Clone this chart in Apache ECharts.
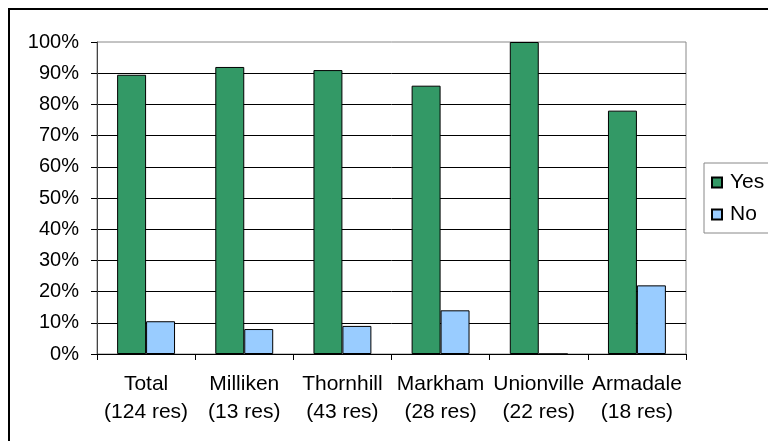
<!DOCTYPE html>
<html>
<head>
<meta charset="utf-8">
<script src="https://cdn.jsdelivr.net/npm/echarts@6/dist/echarts.min.js"></script>
<style>
html, body { margin: 0; padding: 0; background: #fff; }
#chart { width: 768px; height: 441px; }
</style>
</head>
<body>
<div id="chart"></div>
<script>
// 区域 + 样本数
var areas = ['Total', 'Milliken', 'Thornhill', 'Markham', 'Unionville', 'Armadale'];
var resCounts = [124, 13, 43, 28, 22, 18];
var yesPct = [89.5, 92, 91, 86, 100, 78];
var noPct = [10.5, 8, 9, 14, 0, 22];

var labels = [];
for (var i = 0; i < areas.length; i++) {
    labels.push(areas[i] + '\n(' + resCounts[i] + ' res)');
}

var font = 'Liberation Sans, Arial, sans-serif';

var option = {
    animation: false,
    backgroundColor: '#fff',
    textStyle: { fontFamily: font },
    graphic: [
        {
            type: 'rect',
            shape: { x: 9, y: 9, width: 800, height: 500 },
            style: { fill: 'none', stroke: '#000', lineWidth: 2 },
            z: 0
        }
    ],
    grid: {
        left: 97,
        top: 42,
        right: 82,
        bottom: 87,
        show: true,
        borderColor: '#888',
        borderWidth: 1,
        backgroundColor: '#fff'
    },
    legend: {
        orient: 'vertical',
        left: 704,
        top: 163,
        padding: [9, 30, 8, 7],
        itemGap: 11,
        itemWidth: 10,
        itemHeight: 10,
        icon: 'rect',
        borderColor: '#888',
        borderWidth: 1,
        backgroundColor: '#fff',
        textStyle: {
            fontFamily: font,
            fontSize: 21,
            color: '#000',
            padding: [0, 0, 0, 3]
        },
        data: ['Yes', 'No']
    },
    xAxis: {
        type: 'category',
        data: labels,
        axisLine: { lineStyle: { color: '#000', width: 1 } },
        axisTick: { show: true, length: 6, lineStyle: { color: '#000' } },
        axisLabel: {
            color: '#000',
            fontSize: 21,
            lineHeight: 28,
            margin: 16,
            interval: 0
        }
    },
    yAxis: {
        type: 'value',
        min: 0,
        max: 100,
        interval: 10,
        axisLine: { show: true, lineStyle: { color: '#444', width: 1 } },
        axisTick: { show: true, length: 6, lineStyle: { color: '#000' } },
        axisLabel: {
            color: '#000',
            fontSize: 20,
            margin: 18,
            formatter: '{value}%'
        },
        splitLine: {
            show: true,
            showMaxLine: false,
            lineStyle: { color: '#000', width: 1 }
        }
    },
    series: [
        {
            name: 'Yes',
            type: 'bar',
            data: yesPct,
            barWidth: '29.5%',
            barGap: '0%',
            itemStyle: { color: '#339966', borderColor: '#000', borderWidth: 1 }
        },
        {
            name: 'No',
            type: 'bar',
            data: noPct,
            barWidth: '29.5%',
            itemStyle: { color: '#99ccff', borderColor: '#000', borderWidth: 1 }
        }
    ]
};

var chart = echarts.init(document.getElementById('chart'));
chart.setOption(option);
</script>
</body>
</html>
